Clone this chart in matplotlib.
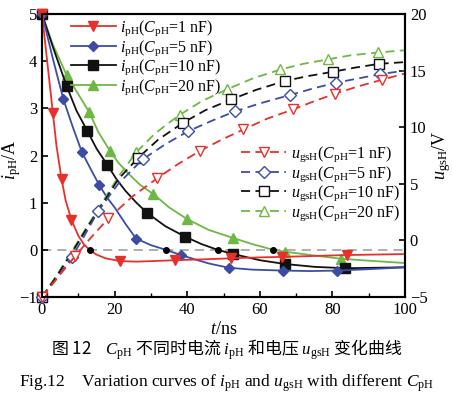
import matplotlib
matplotlib.use('Agg')
import matplotlib.pyplot as plt
from matplotlib.lines import Line2D

plt.rcParams['font.family'] = ['Liberation Serif', 'DejaVu Serif']
plt.rcParams['mathtext.fontset'] = 'custom'
plt.rcParams['mathtext.rm'] = 'Liberation Serif'
plt.rcParams['mathtext.it'] = 'Liberation Serif:italic'
plt.rcParams['mathtext.bf'] = 'Liberation Serif:bold'

# 电流 i_pH (A), 读图得到
t_i1 = [0, 1, 2, 3, 4, 5.4, 6.5, 8.1, 10, 11.5, 13.1, 15, 17.5, 21.5, 26, 30, 36.6, 45, 52.2, 60, 66, 75, 84, 92, 100]
i_1 = [5, 4.3, 3.6, 2.9, 2.2, 1.5, 1.05, 0.64, 0.3, 0.12, 0.0, -0.1, -0.18, -0.24, -0.25, -0.24, -0.22, -0.2, -0.18, -0.16, -0.15, -0.13, -0.11, -0.1, -0.09]
mk_i1 = [0, 3, 5, 7, 13, 16, 18, 20, 22]

t_i5 = [0, 3, 5.9, 8.5, 11, 13.5, 15.8, 18, 20, 23, 25.9, 30, 34.1, 38.3, 42, 46, 51.5, 58, 66.5, 74, 81.4, 90, 100]
i_5 = [5, 4.05, 3.19, 2.6, 2.07, 1.7, 1.37, 1.1, 0.9, 0.55, 0.24, 0.1, 0.0, -0.11, -0.2, -0.29, -0.38, -0.42, -0.44, -0.45, -0.44, -0.41, -0.37]
mk_i5 = [0, 2, 4, 6, 10, 13, 16, 18, 20]

t_i10 = [0, 3, 6.8, 9.5, 12.5, 15, 18, 20.5, 23, 26, 29, 34, 39.4, 44, 48.4, 52.5, 60, 66.9, 75, 83.5, 92, 100]
i_10 = [5, 4.3, 3.47, 2.95, 2.52, 2.15, 1.8, 1.5, 1.25, 1.0, 0.78, 0.5, 0.28, 0.12, 0.0, -0.085, -0.22, -0.3, -0.36, -0.39, -0.38, -0.37]
mk_i10 = [0, 2, 4, 6, 10, 12, 15, 17, 19]

t_i20 = [0, 3, 6.8, 10, 13, 15.5, 18.7, 21, 24, 27, 30.7, 35, 40, 46, 52.7, 58, 63.7, 66.9, 75, 82.4, 90, 100]
i_20 = [5, 4.35, 3.7, 3.3, 2.92, 2.5, 2.1, 1.85, 1.6, 1.38, 1.18, 0.9, 0.65, 0.42, 0.25, 0.12, 0.0, -0.04, -0.12, -0.19, -0.23, -0.28]
mk_i20 = [0, 2, 4, 6, 10, 12, 14, 17, 19]

# 电流过零点
t_zero = [13.1, 34.1, 48.4, 63.7]

# 电压 u_gsH (V)
t_u1 = [0, 4, 9.1, 13.5, 18.3, 25, 31.8, 37.5, 43.5, 49.5, 55.5, 62, 69.2, 75, 80.7, 87, 93.8, 100]
u_1 = [-5, -3.4, -1.4, 0.25, 1.95, 3.9, 5.5, 6.75, 7.9, 8.9, 9.8, 10.75, 11.57, 12.3, 12.95, 13.6, 14.2, 14.75]
mk_u1 = [0, 2, 4, 6, 8, 10, 12, 14, 16]

t_u5 = [0, 4, 8.2, 12, 15.5, 21, 27.7, 34, 40.3, 47, 53.2, 60, 68.3, 75, 81, 87, 93.1, 100]
u_5 = [-5, -3.4, -1.5, 0.6, 2.6, 5.0, 7.15, 8.5, 9.65, 10.6, 11.4, 12.1, 12.84, 13.45, 13.93, 14.3, 14.68, 15.0]
mk_u5 = [0, 2, 4, 6, 8, 10, 12, 14, 16]

t_u10 = [0, 4, 8, 12, 16, 21, 26.5, 32, 38.9, 45, 52.2, 59, 66.9, 73, 80.2, 86, 92.9, 100]
u_10 = [-5, -3.2, -1.2, 0.9, 2.9, 5.4, 7.3, 8.9, 10.4, 11.5, 12.46, 13.3, 14.08, 14.5, 14.9, 15.25, 15.6, 15.75]
mk_u10 = [0, 6, 8, 10, 12, 14, 16]

t_u20 = [0, 4, 8, 12, 16, 21, 26, 31, 35, 38, 44, 51, 58, 65.7, 72, 78.9, 85, 92.6, 100]
u_20 = [-5, -3.1, -1.1, 1.0, 3.05, 5.6, 7.8, 9.4, 10.4, 11.1, 12.3, 13.35, 14.3, 15.1, 15.6, 16.0, 16.35, 16.6, 16.8]
mk_u20 = [0, 6, 9, 11, 13, 15, 17]

caps = ['1', '5', '10', '20']
colors = ['#e8302b', '#3c4ca5', '#111111', '#6db842']

fig = plt.figure(figsize=(4.53, 4.03), dpi=100)
ax = fig.add_axes([42/453, 1-297/403, 363/453, 283/403])
ax2 = ax.twinx()

ax.axhline(0, color='#999999', ls=(0, (6, 4)), lw=1.1, zorder=1)

cur = [(t_i1, i_1, mk_i1, 'v', 7), (t_i5, i_5, mk_i5, 'D', 5.5),
       (t_i10, i_10, mk_i10, 's', 6.5), (t_i20, i_20, mk_i20, '^', 7)]
h1 = []
for k in [3, 2, 1, 0]:
    t, y, mk, m, ms = cur[k]
    ax.plot(t, y, color=colors[k], lw=1.3, marker=m, ms=ms, markevery=mk,
            clip_on=False, zorder=3)
for k in range(4):
    t, y, mk, m, ms = cur[k]
    h1.append(Line2D([], [], color=colors[k], lw=1.3, marker=m, ms=ms))

ax.plot(t_zero, [0]*len(t_zero), 'o', color='black', ms=4, zorder=4)

vol = [(t_u1, u_1, mk_u1, 'v', 7.5), (t_u5, u_5, mk_u5, 'D', 6.5),
       (t_u10, u_10, mk_u10, 's', 7), (t_u20, u_20, mk_u20, '^', 7.5)]
h2 = []
for k in [3, 2, 1, 0]:
    t, y, mk, m, ms = vol[k]
    ax2.plot(t, y, color=colors[k], lw=1.3, ls=(0, (5, 3)), marker=m, ms=ms,
             markevery=mk, mfc='white', mew=1.0, clip_on=False)
for k in range(4):
    t, y, mk, m, ms = vol[k]
    h2.append(Line2D([], [], color=colors[k], lw=1.3, ls=(0, (5, 3)), marker=m,
                     ms=ms, mfc='white', mew=1.0))

ax.set_xlim(0, 100)
ax.set_ylim(-1, 5)
ax2.set_ylim(-5, 20)
ax.set_xticks([0, 20, 40, 60, 80, 100])
ax.set_xticks([10, 30, 50, 70, 90], minor=True)
ax.set_yticks([-1, 0, 1, 2, 3, 4, 5])
ax2.set_yticks([-5, 0, 5, 10, 15, 20])
ax.tick_params(direction='in', labelsize=12, length=4, width=1.2)
ax.tick_params(which='minor', direction='in', length=3, width=1.0)
ax2.tick_params(direction='in', labelsize=12, length=4, width=1.2)
for a in (ax, ax2):
    for s in a.spines.values():
        s.set_linewidth(1.5)

ax.set_xlabel(r'$t$/ns', fontsize=13, labelpad=2)
ax.set_ylabel(r'$i_{\rm pH}$/A', fontsize=13)
ax.yaxis.set_label_coords(-0.052, 0.484)
ax2.set_ylabel(r'$u_{\rm gsH}$/V', fontsize=13, labelpad=2)

lab1 = [r'$i_{\rm pH}$($C_{\rm pH}$=%s nF)' % c for c in caps]
lab2 = [r'$u_{\rm gsH}$($C_{\rm pH}$=%s nF)' % c for c in caps]
ax.legend(h1, lab1, loc='upper left', bbox_to_anchor=(0.075, 0.99),
          frameon=False, fontsize=11.5, handlelength=2.8, handletextpad=0.3,
          labelspacing=0.0, borderpad=0.1, borderaxespad=0)
ax2.legend(h2, lab2, loc='upper right', bbox_to_anchor=(0.99, 0.545),
           frameon=False, fontsize=11.5, handlelength=2.8, handletextpad=0.3,
           labelspacing=0.0, borderpad=0.1, borderaxespad=0)

fig.text(0.5, 1-350/403, r'图 12    $C_{\rm pH}$ 不同时电流 $i_{\rm pH}$ 和电压 $u_{\rm gsH}$ 变化曲线',
         family='Noto Sans CJK SC', fontsize=12.2, ha='center', va='center')
fig.text(0.5, 1-383/403, r'Fig.12    Variation curves of $i_{\rm pH}$ and $u_{\rm gsH}$ with different $C_{\rm pH}$',
         fontsize=12.5, ha='center', va='center')

fig.savefig('out.png', dpi=100)
